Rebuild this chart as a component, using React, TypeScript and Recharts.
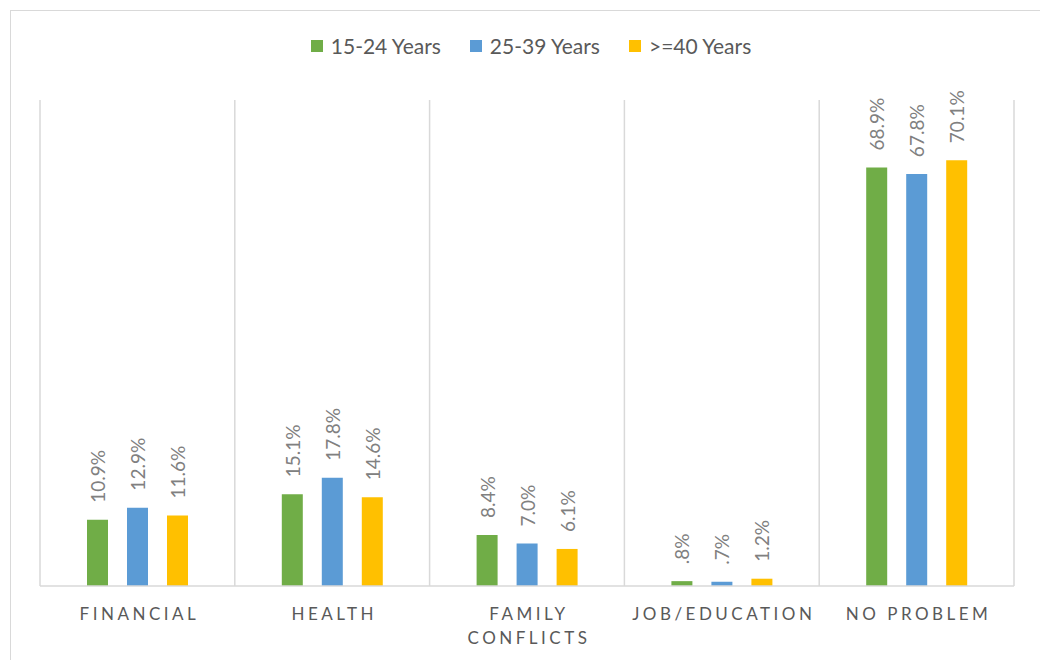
import React from "react";
import { BarChart, Bar, XAxis, YAxis, CartesianGrid, LabelList } from "recharts";

const categories = ["Financial", "Health", "Family Conflicts", "Job/Education", "No Problem"];
const youngValues = [10.9, 15.1, 8.4, 0.8, 68.9];
const midValues = [12.9, 17.8, 7.0, 0.7, 67.8];
const olderValues = [11.6, 14.6, 6.1, 1.2, 70.1];

const seriesNames = ["15-24 Years", "25-39 Years", ">=40 Years"];
const seriesKeys = ["young", "mid", "older"];
const seriesColors = ["#70AD47", "#5B9BD5", "#FFC000"];

const chartData = categories.map((name, i) => ({
    name,
    young: youngValues[i],
    mid: midValues[i],
    older: olderValues[i],
}));

const FONT = "Lato, 'Liberation Sans', sans-serif";
const TEXT = "#595959";

const formatPct = (v: number) => v.toFixed(1).replace(/^0\./, ".") + "%";

// rotated value label sitting just above the bar
const RotatedLabel = (props: any) => {
    const { x, y, width, value } = props;
    const cx = x + width / 2;
    const cy = y - 17;
    return (
        <text
            x={cx}
            y={cy}
            transform={`rotate(-90, ${cx}, ${cy})`}
            textAnchor="start"
            dominantBaseline="central"
            fill="#808080"
            fontSize={19}
            fontFamily={FONT}
        >
            {formatPct(value)}
        </text>
    );
};

// upper-case, letter-spaced category label that wraps long names
const CategoryTick = (props: any) => {
    const { x, y, payload } = props;
    const label = String(payload.value).toUpperCase();
    const lines = label.length > 14 ? label.split(" ") : [label];
    return (
        <text
            x={x + 2}
            y={y + 26}
            textAnchor="middle"
            fill={TEXT}
            fontSize={17}
            fontFamily={FONT}
            letterSpacing={3.5}
        >
            {lines.map((line, i) => (
                <tspan key={i} x={x + 2} dy={i === 0 ? 0 : 24}>
                    {line}
                </tspan>
            ))}
        </text>
    );
};

const LegendRow = () => (
    <div
        style={{
            position: "absolute",
            left: 40,
            width: 982,
            top: 33,
            display: "flex",
            justifyContent: "center",
            gap: 29,
            fontFamily: FONT,
            fontSize: 21,
            color: TEXT,
        }}
    >
        {seriesNames.map((name, i) => (
            <div key={name} style={{ display: "flex", alignItems: "center" }}>
                <span
                    style={{
                        width: 12,
                        height: 12,
                        background: seriesColors[i],
                        marginRight: 8,
                        display: "inline-block",
                    }}
                ></span>
                {name}
            </div>
        ))}
    </div>
);

const App: React.FC = () => {
    return (
        <div style={{ position: "absolute", left: 0, top: 0, width: 1040, height: 660, background: "#fff", overflow: "hidden" }}>
            {/* outer frame */}
            <div
                style={{
                    position: "absolute",
                    left: 10,
                    top: 10,
                    width: 1100,
                    height: 700,
                    border: "1.5px solid #D9D9D9",
                }}
            ></div>
            <LegendRow />
            <div style={{ position: "absolute", left: 0, top: 0 }}>
                <BarChart
                    width={1040}
                    height={660}
                    data={chartData}
                    margin={{ top: 100, right: 26, bottom: 14, left: 40 }}
                    barSize={21}
                    barGap={19}
                >
                    <CartesianGrid
                        horizontal={false}
                        stroke="#D9D9D9"
                        strokeWidth={1.5}
                        verticalCoordinatesGenerator={({ offset }: any) =>
                            categories
                                .map((_, i) => offset.left + (i * offset.width) / categories.length)
                                .concat(offset.left + offset.width)
                        }
                    />
                    <XAxis
                        dataKey="name"
                        height={60}
                        tickLine={false}
                        axisLine={{ stroke: "#D9D9D9", strokeWidth: 1.5 }}
                        tick={<CategoryTick />}
                        interval={0}
                    />
                    <YAxis hide domain={[0, 80]} />
                    {seriesKeys.map((key, i) => (
                        <Bar key={key} dataKey={key} name={seriesNames[i]} fill={seriesColors[i]} isAnimationActive={false}>
                            <LabelList dataKey={key} content={<RotatedLabel />} />
                        </Bar>
                    ))}
                </BarChart>
            </div>
        </div>
    );
};

export default App;
